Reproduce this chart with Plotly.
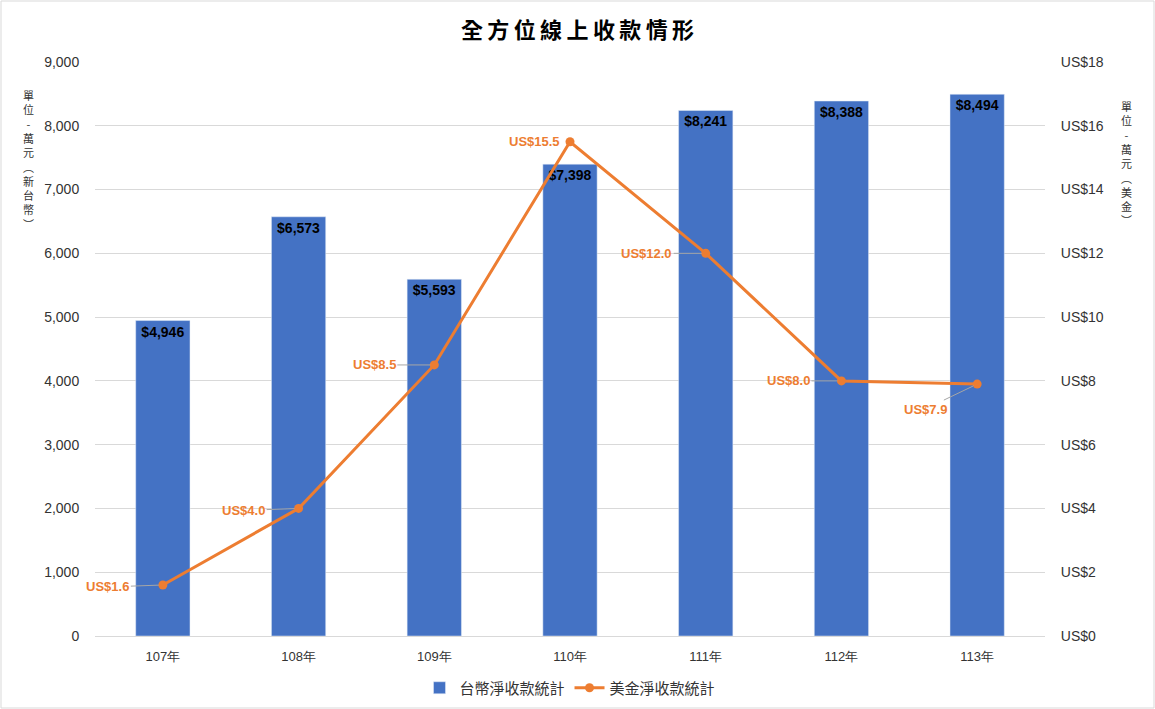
import plotly.graph_objects as go

years = ["107年", "108年", "109年", "110年", "111年", "112年", "113年"]
twd_values = [4946, 6573, 5593, 7398, 8241, 8388, 8494]
usd_values = [1.6, 4.0, 8.5, 15.5, 12.0, 8.0, 7.9]
# where each USD label sits relative to its point (pixels)
usd_label_offsets = [(-55, 2), (-55, 2), (-60, 0), (-36, 0), (-59, 0), (-53, 0), (-52, 25)]

BLUE = "#4472C4"
ORANGE = "#ED7D31"
CJK = "Noto Sans CJK TC"
TXT = "#333333"
CLEAR = "rgba(0,0,0,0)"

fig = go.Figure()

fig.add_trace(go.Bar(
    x=years, y=twd_values, name="台幣淨收款統計",
    marker_color=BLUE, width=0.4,
    text=["$" + f"{v:,}" for v in twd_values],
    textposition="inside", insidetextanchor="end",
    textfont=dict(family="Liberation Sans, Arial", size=14, color="black", weight="bold"),
    textangle=0,
))

fig.add_trace(go.Scatter(
    x=years, y=usd_values, name="美金淨收款統計", yaxis="y2",
    mode="lines+markers",
    line=dict(color=ORANGE, width=3),
    marker=dict(color=ORANGE, size=9),
))

for yr, v, (ax, ay) in zip(years, usd_values, usd_label_offsets):
    # short offsets sit right next to the point, no leader line there
    leader = "#a6a6a6" if abs(ax) > 40 else CLEAR
    fig.add_annotation(
        x=yr, y=v, yref="y2", text=f"US${v:.1f}",
        showarrow=True, arrowhead=0, arrowwidth=1, arrowcolor=leader,
        ax=ax, ay=ay, standoff=4,
        font=dict(family="Liberation Sans, Arial", size=13, color=ORANGE, weight="bold"),
    )

# vertical unit labels
fig.add_annotation(
    xref="paper", yref="paper", x=-0.0705, xanchor="center", y=0.96, yanchor="top",
    showarrow=False, text="<br>".join(list("單位-萬元︵新台幣︶")),
    font=dict(family=CJK, size=11, color=TXT),
)
fig.add_annotation(
    xref="paper", yref="paper", x=1.0863, xanchor="center", y=0.94, yanchor="top",
    showarrow=False, text="<br>".join(list("單位-萬元︵美金︶")),
    font=dict(family=CJK, size=11, color=TXT),
)

# outer border
fig.add_shape(
    type="rect", xref="paper", yref="paper",
    x0=-94 / 950, x1=1 + 109 / 950, y0=-72 / 574, y1=1 + 61 / 574,
    line=dict(color="#d9d9d9", width=1),
)

fig.update_layout(
    width=1155, height=709,
    margin=dict(l=95, r=110, t=62, b=73, autoexpand=False),
    paper_bgcolor="white", plot_bgcolor="white",
    title=dict(text="<b>" + "\u2009".join("全方位線上收款情形") + "</b>",
               x=0.5, xanchor="center", y=1 - 30 / 709, yanchor="middle",
               font=dict(family=CJK, size=22, color="black")),
    font=dict(family="Liberation Sans, Arial", size=13, color=TXT),
    xaxis=dict(range=[-0.5, 6.5], showgrid=False, showline=True, linecolor="#d9d9d9",
               ticks="outside", ticklen=8, tickcolor=CLEAR,
               tickfont=dict(size=13, color=TXT)),
    yaxis=dict(range=[0, 9000], dtick=1000, tickformat=",d", showgrid=True,
               gridcolor="#d9d9d9", zeroline=False,
               ticks="outside", ticklen=12, tickcolor=CLEAR,
               tickfont=dict(size=14, color=TXT)),
    yaxis2=dict(range=[0, 18], dtick=2, tickprefix="US$", overlaying="y", side="right",
                showgrid=False, zeroline=False,
                ticks="outside", ticklen=12, tickcolor=CLEAR,
                tickfont=dict(size=14, color=TXT)),
    legend=dict(orientation="h", x=0.5, xanchor="center", y=-52 / 574, yanchor="middle",
                font=dict(family=CJK, size=15, color=TXT)),
)

fig.write_html("out.html", config={"displayModeBar": False},
               post_script="document.body.style.margin='0px';")
